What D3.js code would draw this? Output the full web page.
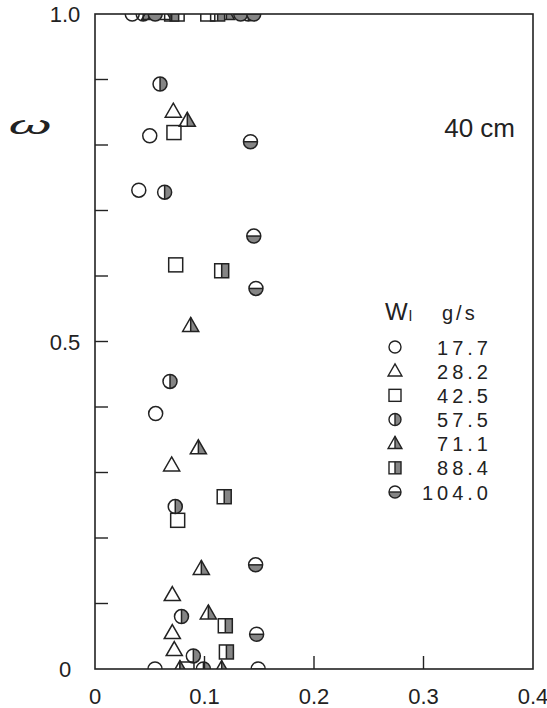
<!DOCTYPE html>
<html>
<head>
<meta charset="utf-8">
<script src="https://cdn.jsdelivr.net/npm/d3@7/dist/d3.min.js"></script>
<style>
  html, body { margin: 0; padding: 0; background: #fff; }
  svg { display: block; }
  text { font-family: "Liberation Sans", Arial, sans-serif; fill: #222; }
</style>
</head>
<body>
<svg id="chart" width="547" height="708"></svg>
<script>
// Liquid flow rate series (g/s) and their marker styles
const seriesNames = ["17.7", "28.2", "42.5", "57.5", "71.1", "88.4", "104.0"];
const seriesShapes = ["circle", "triangle", "square", "circleRight", "triangleRight", "squareRight", "circleBottom"];

// [x, ω] pairs per series
const s177 = [[0.034, 1.0], [0.050, 0.814], [0.040, 0.731], [0.0554, 0.390], [0.0548, 0.0]];
const s282 = [[0.062, 1.0], [0.0715, 0.851], [0.070, 0.311], [0.0706, 0.113], [0.0706, 0.055], [0.0724, 0.029]];
const s425 = [[0.075, 1.0], [0.103, 1.0], [0.0721, 0.819], [0.0737, 0.617], [0.0755, 0.227], [0.084, 0.0]];
const s575 = [[0.044, 1.0], [0.140, 1.0], [0.0594, 0.893], [0.0636, 0.728], [0.0685, 0.439], [0.0733, 0.248], [0.079, 0.080], [0.0898, 0.020], [0.099, 0.0]];
const s711 = [[0.050, 1.0], [0.120, 1.0], [0.0843, 0.837], [0.0874, 0.524], [0.0944, 0.337], [0.0971, 0.153], [0.1035, 0.085], [0.0776, 0.0], [0.1157, 0.0]];
const s884 = [[0.070, 1.0], [0.112, 1.0], [0.1157, 0.608], [0.118, 0.263], [0.119, 0.066], [0.120, 0.026]];
const s1040 = [[0.055, 1.0], [0.133, 1.0], [0.145, 1.0], [0.142, 0.805], [0.145, 0.661], [0.147, 0.581], [0.1467, 0.159], [0.1476, 0.053], [0.149, 0.0]];
const seriesData = [s177, s282, s425, s575, s711, s884, s1040];

const xTicks = [0, 0.1, 0.2, 0.3, 0.4];
const xTickLabels = ["0", "0.1", "0.2", "0.3", "0.4"];
const yTicks = [0, 0.5, 1.0];
const yTickLabels = ["0", "0.5", "1.0"];
const yMinorTicks = [0.1, 0.2, 0.3, 0.4, 0.5, 0.6, 0.7, 0.8, 0.9];
const xMinorTicks = [0.1, 0.2, 0.3];

const svg = d3.select("#chart");
const x = d3.scaleLinear().domain([0, 0.4]).range([95, 533]);
const y = d3.scaleLinear().domain([0, 1]).range([669, 14]);

const INK = "#222";
const GREY = "#858585";

svg.append("defs").append("clipPath").attr("id", "plotClip")
  .append("rect")
  .attr("x", x(0)).attr("y", y(1))
  .attr("width", x(0.4) - x(0)).attr("height", y(0) - y(1));

// draws one marker of given kind centred at (cx, cy) with size s (half-width)
function drawMarker(g, kind, cx, cy, s, sw) {
  const m = g.append("g").attr("transform", `translate(${cx},${cy})`);
  if (kind.startsWith("circle")) {
    if (kind === "circleRight") {
      m.append("path").attr("d", `M0,${-s} A${s},${s} 0 0 1 0,${s} Z`).attr("fill", GREY);
    } else if (kind === "circleBottom") {
      m.append("path").attr("d", `M${-s},0 A${s},${s} 0 0 0 ${s},0 Z`).attr("fill", GREY);
    }
    m.append("circle").attr("r", s).attr("fill", kind === "circle" ? "#fff" : "none")
      .attr("stroke", INK).attr("stroke-width", sw);
    if (kind === "circleRight") m.append("line").attr("x1", 0).attr("x2", 0).attr("y1", -s).attr("y2", s).attr("stroke", INK).attr("stroke-width", sw);
    if (kind === "circleBottom") m.append("line").attr("x1", -s).attr("x2", s).attr("y1", 0).attr("y2", 0).attr("stroke", INK).attr("stroke-width", sw);
  } else if (kind.startsWith("triangle")) {
    const w = s * 1.15, h = s * 2;
    const top = -h * 0.6, bot = h * 0.4;
    if (kind === "triangleRight") {
      m.append("path").attr("d", `M0,${top} L${w},${bot} L0,${bot} Z`).attr("fill", GREY);
    }
    m.append("path").attr("d", `M0,${top} L${w},${bot} L${-w},${bot} Z`)
      .attr("fill", kind === "triangle" ? "#fff" : "none")
      .attr("stroke", INK).attr("stroke-width", sw).attr("stroke-linejoin", "miter");
    if (kind === "triangleRight") m.append("line").attr("x1", 0).attr("x2", 0).attr("y1", top).attr("y2", bot).attr("stroke", INK).attr("stroke-width", sw);
  } else {
    if (kind === "squareRight") {
      m.append("rect").attr("x", 0).attr("y", -s).attr("width", s).attr("height", 2 * s).attr("fill", GREY);
    }
    m.append("rect").attr("x", -s).attr("y", -s).attr("width", 2 * s).attr("height", 2 * s)
      .attr("fill", kind === "square" ? "#fff" : "none")
      .attr("stroke", INK).attr("stroke-width", sw);
    if (kind === "squareRight") m.append("line").attr("x1", 0).attr("x2", 0).attr("y1", -s).attr("y2", s).attr("stroke", INK).attr("stroke-width", sw);
  }
}

// data markers, clipped to the frame
const plot = svg.append("g").attr("clip-path", "url(#plotClip)");
seriesData.forEach((pts, i) => {
  pts.forEach(p => drawMarker(plot, seriesShapes[i], x(p[0]), y(p[1]), 7, 1.5));
});

// frame
svg.append("rect")
  .attr("x", x(0)).attr("y", y(1))
  .attr("width", x(0.4) - x(0)).attr("height", y(0) - y(1))
  .attr("fill", "none").attr("stroke", INK).attr("stroke-width", 1.6);

// inward ticks on left and bottom
svg.append("g").selectAll("line").data(yMinorTicks).join("line")
  .attr("x1", x(0)).attr("x2", x(0) + 13)
  .attr("y1", d => y(d)).attr("y2", d => y(d))
  .attr("stroke", INK).attr("stroke-width", 1.4);
svg.append("g").selectAll("line").data(xMinorTicks).join("line")
  .attr("x1", d => x(d)).attr("x2", d => x(d))
  .attr("y1", y(0)).attr("y2", y(0) - 13)
  .attr("stroke", INK).attr("stroke-width", 1.4);

// tick labels
svg.append("g").selectAll("text").data(xTicks).join("text")
  .attr("x", d => x(d)).attr("y", 704)
  .attr("text-anchor", "middle").attr("font-size", 22)
  .text((d, i) => xTickLabels[i]);
svg.append("g").selectAll("text").data(yTicks).join("text")
  .attr("x", 65).attr("y", d => y(d) + 8)
  .attr("text-anchor", "middle").attr("font-size", 22)
  .text((d, i) => yTickLabels[i]);

// y-axis symbol
svg.append("text")
  .attr("transform", "translate(30,134) scale(2.1,1)")
  .attr("text-anchor", "middle")
  .attr("font-family", "DejaVu Serif").attr("font-style", "italic")
  .attr("font-size", 26)
  .text("ω");

// height annotation
svg.append("text").attr("x", 515).attr("y", 137).attr("text-anchor", "end")
  .attr("font-size", 26).text("40 cm");

// legend
const lg = svg.append("g");
const wl = lg.append("text").attr("x", 385).attr("y", 320).attr("font-size", 24);
wl.append("tspan").text("W");
wl.append("tspan").attr("font-size", 15).attr("dy", 1).attr("dx", 1).text("l");
lg.append("text").attr("x", 442).attr("y", 320).attr("font-size", 20)
  .attr("letter-spacing", 3).text("g/s");
const rowY = d3.scaleLinear().domain([0, 6]).range([347, 492]);
seriesNames.forEach((name, i) => {
  drawMarker(lg, seriesShapes[i], 395, rowY(i), 6, 1.4);
  lg.append("text").attr("x", 492).attr("y", rowY(i) + 7.5)
    .attr("text-anchor", "end").attr("font-size", 20)
    .attr("letter-spacing", 4).text(name);
});
</script>
</body>
</html>
